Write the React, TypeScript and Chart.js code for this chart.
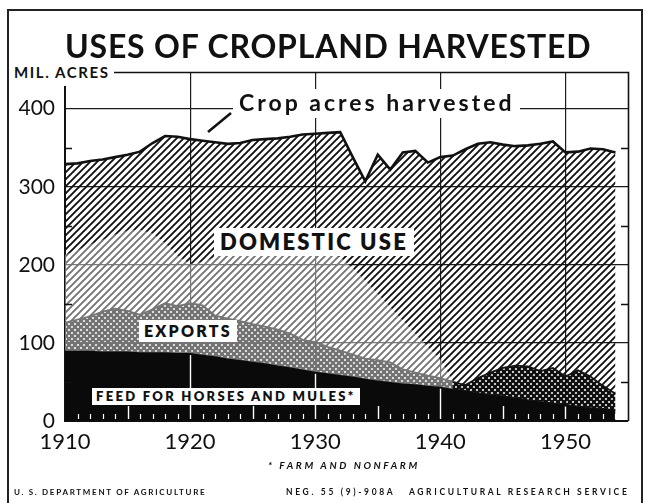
import React, { useEffect, useRef } from "react";
import { Chart, registerables } from "chart.js";

Chart.register(...registerables);

// ---- data (million acres) ----
const years = [
  1910, 1911, 1912, 1913, 1914, 1915, 1916, 1917, 1918, 1919,
  1920, 1921, 1922, 1923, 1924, 1925, 1926, 1927, 1928, 1929,
  1930, 1931, 1932, 1933, 1934, 1935, 1936, 1937, 1938, 1939,
  1940, 1941, 1942, 1943, 1944, 1945, 1946, 1947, 1948, 1949,
  1950, 1951, 1952, 1953, 1954,
];

// Feed for horses and mules (bottom band)
const feedForHorsesAndMules = [
  90, 90, 90, 89, 89, 89, 88, 88, 88, 87,
  87, 85, 83, 80, 78, 76, 74, 71, 69, 66,
  63, 61, 59, 57, 54, 52, 50, 48, 47, 45,
  44, 41, 39, 36, 34, 32, 30, 27, 25, 23,
  21, 19, 17, 16, 14,
];

// Top of the exports band (feed + exports)
const feedPlusExports = [
  126, 130, 134, 140, 144, 141, 136, 143, 151, 147,
  151, 148, 135, 131, 128, 124, 121, 117, 112, 104,
  101, 95, 90, 85, 80, 78, 75, 66, 62, 58,
  55, 50, 46, 55, 62, 68, 71, 70, 64, 68,
  57, 65, 57, 45, 35,
];

// Crop acres harvested (total, top of domestic use)
const cropAcresHarvested = [
  329, 330, 333, 335, 338, 341, 345, 356, 365, 364,
  361, 359, 357, 355, 356, 360, 361, 362, 364, 367,
  368, 369, 370, 338, 307, 341, 322, 344, 346, 331,
  338, 340, 348, 355, 357, 354, 352, 353, 355, 358,
  344, 345, 349, 348, 344,
];

// Upper edge of the lighter screened part of the chart (1910-1941)
const lightScreenTop = [
  213, 219, 226, 232, 239, 244, 245, 240, 228, 212,
  201, 204, 210, 214, 216, 218, 219, 220, 220, 219,
  218, 216, 210, 196, 180, 163, 146, 129, 112, 95,
  79, 52, null, null, null, null, null, null, null, null,
  null, null, null, null, null,
];

const xTickYears = [1910, 1920, 1930, 1940, 1950];
const yTickValues = [0, 100, 200, 300, 400];
const yMinorTicks = [50, 150, 250, 350];

const FONT = "Lato, 'Open Sans', 'DejaVu Sans', sans-serif";

function makeHatch(): CanvasPattern | string {
  const s = 7;
  const c = document.createElement("canvas");
  c.width = s;
  c.height = s;
  const g = c.getContext("2d");
  if (!g) return "#555";
  g.strokeStyle = "#111";
  g.lineWidth = 1.9;
  g.beginPath();
  g.moveTo(-1, s + 1);
  g.lineTo(s + 1, -1);
  g.moveTo(-2, 2);
  g.lineTo(2, -2);
  g.moveTo(s - 2, s + 2);
  g.lineTo(s + 2, s - 2);
  g.stroke();
  const p = g.createPattern(c, "repeat");
  return p || "#555";
}

function makeCrossHatch(): CanvasPattern | string {
  const s = 6;
  const c = document.createElement("canvas");
  c.width = s;
  c.height = s;
  const g = c.getContext("2d");
  if (!g) return "#333";
  g.strokeStyle = "#0d0d0d";
  g.lineWidth = 2.4;
  g.beginPath();
  g.moveTo(-1, -1);
  g.lineTo(s + 1, s + 1);
  g.moveTo(-1, s + 1);
  g.lineTo(s + 1, -1);
  g.stroke();
  const p = g.createPattern(c, "repeat");
  return p || "#333";
}

const decorPlugin = {
  id: "decor",
  afterDatasetsDraw(chart: any) {
    const { ctx, chartArea: a, scales } = chart;
    const x = scales.x;
    const y = scales.y;
    const bottom = y.getPixelForValue(0);
    ctx.save();
    // white year ticks and decade lines inside the black band
    ctx.strokeStyle = "#ffffff";
    years.forEach((yr, i) => {
      if (yr === 1910) return;
      const px = Math.round(x.getPixelForValue(yr)) + 0.5;
      let top: number;
      if (yr % 10 === 0) {
        top = y.getPixelForValue(feedForHorsesAndMules[i]) + 2;
        ctx.lineWidth = 1.4;
      } else if (yr % 5 === 0) {
        top = bottom - 15;
        ctx.lineWidth = 1.4;
      } else {
        top = bottom - 7;
        ctx.lineWidth = 1.2;
      }
      ctx.beginPath();
      ctx.moveTo(px, top);
      ctx.lineTo(px, bottom - 2);
      ctx.stroke();
    });
    // small inward ticks at the 50s on both sides
    ctx.strokeStyle = "#111";
    ctx.lineWidth = 1.3;
    yMinorTicks.forEach((v) => {
      const py = Math.round(y.getPixelForValue(v)) + 0.5;
      ctx.beginPath();
      ctx.moveTo(a.left, py);
      ctx.lineTo(a.left + 7, py);
      ctx.moveTo(a.right, py);
      ctx.lineTo(a.right - 7, py);
      ctx.stroke();
    });
    // frame: top and right edges
    ctx.lineWidth = 1.6;
    ctx.beginPath();
    ctx.moveTo(a.left, a.top + 0.5);
    ctx.lineTo(a.right + 0.5, a.top + 0.5);
    ctx.lineTo(a.right + 0.5, a.bottom);
    ctx.stroke();
    ctx.restore();
  },
};

export default function App() {
  const ref = useRef<HTMLCanvasElement | null>(null);

  useEffect(() => {
    document.body.style.margin = "0";
    const canvas = ref.current;
    if (!canvas) return;
    const pts = (arr: (number | null)[]) =>
      years.map((yr, i) => ({ x: yr, y: arr[i] }));

    const chart = new Chart(canvas, {
      type: "line",
      data: {
        datasets: [
          {
            label: "Feed for horses and mules",
            data: pts(feedForHorsesAndMules),
            backgroundColor: "#0a0a0a",
            borderColor: "#0a0a0a",
            borderWidth: 1,
            fill: "origin",
            pointRadius: 0,
            tension: 0,
            order: 4,
          },
          {
            label: "Exports",
            data: pts(feedPlusExports),
            backgroundColor: makeCrossHatch(),
            borderColor: "#151515",
            borderWidth: 1.8,
            fill: "-1",
            pointRadius: 0,
            tension: 0,
            order: 3,
          },
          {
            label: "Domestic use",
            data: pts(cropAcresHarvested),
            backgroundColor: makeHatch(),
            borderColor: "#111",
            borderWidth: 2.6,
            fill: "-1",
            pointRadius: 0,
            tension: 0,
            order: 2,
          },
          {
            label: "screen",
            data: pts(lightScreenTop),
            backgroundColor: "rgba(255,255,255,0.42)",
            borderColor: "rgba(0,0,0,0)",
            borderWidth: 0,
            fill: 0,
            pointRadius: 0,
            tension: 0,
            spanGaps: false,
            order: 1,
          },
        ] as any,
      },
      options: {
        responsive: false,
        animation: false,
        events: [],
        layout: { padding: { left: 0, right: 18, top: 72, bottom: 0 } },
        plugins: {
          legend: { display: false },
          tooltip: { enabled: false },
        },
        scales: {
          x: {
            type: "linear",
            min: 1910,
            max: 1955,
            afterBuildTicks: (s: any) => {
              s.ticks = xTickYears.map((v) => ({ value: v }));
            },
            afterFit: (s: any) => {
              s.height = 82;
            },
            grid: { color: "#1c1c1c", lineWidth: 1.2, drawTicks: false },
            border: { display: true, color: "#111", width: 2 },
            ticks: {
              padding: 8,
              autoSkip: false,
              maxRotation: 0,
              color: "#111",
              font: { family: FONT, size: 22, weight: "normal" },
              callback: (v: any) => String(v),
            },
          },
          y: {
            type: "linear",
            min: 0,
            max: 447,
            afterBuildTicks: (s: any) => {
              s.ticks = yTickValues.map((v) => ({ value: v }));
            },
            afterFit: (s: any) => {
              s.width = 65;
            },
            grid: { color: "#1c1c1c", lineWidth: 1.2, drawTicks: false },
            border: { display: true, color: "#111", width: 2 },
            ticks: {
              padding: 10,
              color: "#111",
              font: { family: FONT, size: 21, weight: "normal" },
              callback: (v: any) => String(v),
            },
          },
        } as any,
      },
      plugins: [decorPlugin],
    } as any);
    return () => chart.destroy();
  }, []);

  const abs = (s: React.CSSProperties): React.CSSProperties => ({
    position: "absolute",
    fontFamily: FONT,
    color: "#111",
    lineHeight: 1,
    whiteSpace: "nowrap",
    ...s,
  });

  return (
    <div style={{ position: "relative", width: 646, height: 503, background: "#fff", overflow: "hidden" }}>
      <div
        style={{
          position: "absolute",
          left: 7,
          top: 9,
          width: 632,
          height: 500,
          borderLeft: "2px solid #222",
          borderTop: "2px solid #222",
          borderRight: "2px solid #222",
        }}
      />
      <canvas ref={ref} width={646} height={503} style={{ position: "absolute", left: 0, top: 0 }} />
      <div style={abs({ left: 65, top: 30, fontSize: 32, fontWeight: 700, letterSpacing: 0.8 })}>
        USES OF CROPLAND HARVESTED
      </div>
      <div style={abs({ left: 12, top: 63, fontSize: 15, fontWeight: 700, letterSpacing: 1.6, background: "#fff", padding: "2px 4px 6px 2px" })}>
        MIL. ACRES
      </div>
      <svg width={646} height={503} style={{ position: "absolute", left: 0, top: 0 }}>
        <line x1={208} y1={132} x2={231} y2={113} stroke="#111" strokeWidth={2.5} />
      </svg>
      <div style={abs({ left: 233, top: 89, fontSize: 23, fontWeight: 700, letterSpacing: 3, background: "#fff", padding: "2px 6px 4px 6px" })}>
        Crop acres harvested
      </div>
      <div style={abs({ left: 214, top: 228, fontSize: 22, fontWeight: 800, letterSpacing: 2.2, background: "#fff", padding: "3px 6px 3px 6px" })}>
        DOMESTIC USE
      </div>
      <div style={abs({ left: 139, top: 320, fontSize: 16, fontWeight: 800, letterSpacing: 2.2, background: "#fff", padding: "3px 5px 3px 5px" })}>
        EXPORTS
      </div>
      <div style={abs({ left: 92, top: 388, fontSize: 13, fontWeight: 800, letterSpacing: 2.3, background: "#fff", padding: "2px 4px 2px 4px" })}>
        FEED FOR HORSES AND MULES*
      </div>
      <div style={abs({ left: 268, top: 460, fontSize: 10, fontWeight: 700, fontStyle: "italic", letterSpacing: 2.6 })}>
        * FARM AND NONFARM
      </div>
      <div style={abs({ left: 14, top: 488, fontSize: 8, fontWeight: 700, letterSpacing: 1.7 })}>
        U. S. DEPARTMENT OF AGRICULTURE
      </div>
      <div style={abs({ left: 286, top: 488, fontSize: 8.5, fontWeight: 700, letterSpacing: 2.65 })}>
        NEG. 55 (9)-908A&nbsp;&nbsp;&nbsp;AGRICULTURAL RESEARCH SERVICE
      </div>
    </div>
  );
}
